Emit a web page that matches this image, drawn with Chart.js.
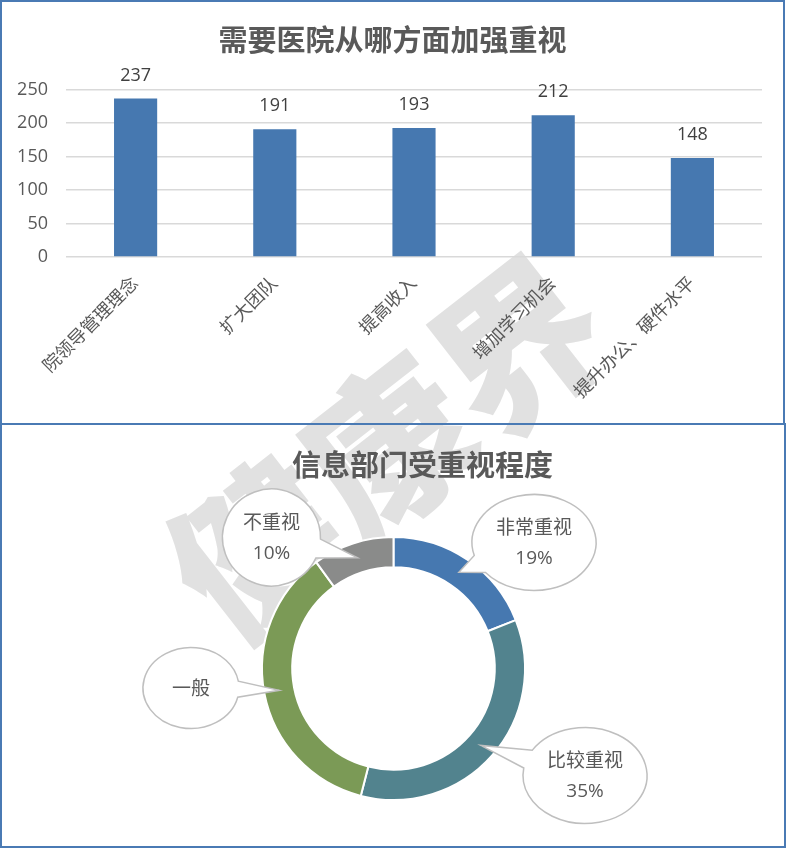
<!DOCTYPE html>
<html>
<head>
<meta charset="utf-8">
<script src="https://cdn.jsdelivr.net/npm/chart.js@4.4.0/dist/chart.umd.min.js"></script>
<style>
  html, body { margin: 0; padding: 0; background: #fff; }
  body { width: 786px; height: 848px; position: relative; overflow: hidden; }
  .panel { position: absolute; box-sizing: border-box; border: 2px solid #4a7ab4; pointer-events: none; z-index: 3; }
  .chart-box { position: absolute; left: 0; width: 786px; height: 424px; z-index: 1; }
  #watermark {
    position: absolute; left: 382px; top: 440px; z-index: 0;
    transform: translate(-50%, -50%) rotate(-38deg);
    font: 900 165px "Noto Sans CJK SC"; line-height: 1; color: #e1e1e1; white-space: nowrap;
  }
</style>
</head>
<body>
<div id="watermark">健康界</div>
<div class="chart-box" style="top:0"><canvas id="bar-chart"></canvas></div>
<div class="chart-box" style="top:424px"><canvas id="ring-chart"></canvas></div>
<div class="panel" style="left:0;top:0;width:785px;height:425px"></div>
<div class="panel" style="left:0;top:423px;width:786px;height:425px"></div>

<script>
// Top chart data
const categories = ['院领导管理理念', '扩大团队', '提高收入', '增加学习机会', '提升办公、硬件水平'];
const counts = [237, 191, 193, 212, 148];
const yTicks = [0, 50, 100, 150, 200, 250];

// Bottom chart data
const levels = ['非常重视', '比较重视', '一般', '不重视'];
const shares = [19, 35, 36, 10];
const showShare = [true, true, false, true];

// Callout bubbles: offset from ring centre and radii (layout only)
const bubbleLayout = [
    [140.5, -126, 62, 48],
    [191.5, 107, 62, 48],
    [-202.5, 19.5, 48, 40.5],
    [-122, -131, 49, 48.5]
];

const TEXT = '#595959';
const FONT = '"Open Sans", "Noto Sans CJK SC", sans-serif';
const TITLE_FONT = '"Noto Sans CJK SC", sans-serif';

Chart.defaults.font.family = FONT;
Chart.defaults.color = TEXT;

/**
 * Value labels above the bars
 */
const barValueLabels = {
    id: 'barValueLabels',
    afterDatasetsDraw(chart) {
        const ctx = chart.ctx;
        chart.getDatasetMeta(0).data.forEach((bar, i) => {
            ctx.save();
            ctx.font = '18px ' + FONT;
            ctx.fillStyle = '#404040';
            ctx.textAlign = 'center';
            ctx.textBaseline = 'middle';
            ctx.fillText(String(counts[i]), bar.x, bar.y - 23);
            ctx.restore();
        });
    }
};

/**
 * Ellipse speech bubbles pointing at each ring slice
 */
const ringCallouts = {
    id: 'ringCallouts',
    afterDraw(chart) {
        const ctx = chart.ctx;
        chart.getDatasetMeta(0).data.forEach((arc, i) => {
            const tip = arc.tooltipPosition();
            const [ox, oy, rx, ry] = bubbleLayout[i];
            const bx = arc.x + ox;
            const by = arc.y + oy;
            const t = Math.atan2((tip.y - by) / ry, (tip.x - bx) / rx);
            const d = 0.2;

            ctx.save();
            ctx.beginPath();
            ctx.ellipse(bx, by, rx, ry, 0, t + d, t - d + Math.PI * 2);
            ctx.lineTo(tip.x, tip.y);
            ctx.closePath();
            ctx.fillStyle = '#fff';
            ctx.fill();
            ctx.lineWidth = 1.5;
            ctx.strokeStyle = '#bfbfbf';
            ctx.stroke();

            ctx.font = '19px ' + FONT;
            ctx.fillStyle = TEXT;
            ctx.textAlign = 'center';
            ctx.textBaseline = 'middle';
            if (showShare[i]) {
                ctx.fillText(levels[i], bx, by - 14);
                ctx.fillText(shares[i] + '%', bx, by + 16);
            } else {
                ctx.fillText(levels[i], bx, by + 2);
            }
            ctx.restore();
        });
    }
};

new Chart(document.getElementById('bar-chart'), {
    type: 'bar',
    data: {
        labels: categories,
        datasets: [{
            data: counts,
            backgroundColor: '#4678b0',
            categoryPercentage: 1,
            barPercentage: 0.31
        }]
    },
    options: {
        responsive: true,
        maintainAspectRatio: false,
        animation: false,
        events: [],
        layout: { padding: { left: 0, right: 1, top: 0, bottom: 0 } },
        scales: {
            x: {
                grid: { display: false },
                border: { display: false },
                ticks: {
                    autoSkip: false,
                    minRotation: 45,
                    maxRotation: 45,
                    padding: 8,
                    color: TEXT,
                    font: { size: 18 }
                },
                afterFit: s => { s.height = 167; }
            },
            y: {
                min: yTicks[0],
                max: yTicks[yTicks.length - 1],
                afterBuildTicks: s => { s.ticks = yTicks.map(v => ({ value: v })); },
                grid: { color: '#d9d9d9', lineWidth: 1.5, drawTicks: false },
                border: { display: false },
                ticks: { padding: 18, color: TEXT, font: { size: 18 } },
                afterFit: s => { s.width = 66; }
            },
            // empty right-hand spacer so the title centres like the original
            spacer: {
                type: 'linear',
                position: 'right',
                grid: { display: false },
                border: { display: false },
                ticks: { display: false },
                afterFit: s => { s.width = 23; }
            }
        },
        plugins: {
            legend: { display: false },
            tooltip: { enabled: false },
            title: {
                display: true,
                text: '需要医院从哪方面加强重视',
                color: TEXT,
                font: { family: TITLE_FONT, size: 29, weight: 'bold', lineHeight: 1.2 },
                padding: { top: 23, bottom: 32 }
            }
        }
    },
    plugins: [barValueLabels]
});

// chart area is wider than the ring so the title (aligned to its right edge)
// can sit off-centre as in the original while the ring stays centred
new Chart(document.getElementById('ring-chart'), {
    type: 'doughnut',
    data: {
        labels: levels,
        datasets: [{
            data: shares,
            backgroundColor: ['#4678b0', '#52838e', '#7b9a56', '#8a8b8a'],
            borderColor: '#fff',
            borderWidth: 2
        }]
    },
    options: {
        responsive: true,
        maintainAspectRatio: false,
        animation: false,
        events: [],
        cutout: '77%',
        layout: { padding: { left: 234, right: 233, top: 0, bottom: 47 } },
        plugins: {
            legend: { display: false },
            tooltip: { enabled: false },
            title: {
                display: true,
                align: 'end',
                text: '信息部门受重视程度',
                color: TEXT,
                font: { family: TITLE_FONT, size: 29, weight: 'bold', lineHeight: 1.2 },
                padding: { top: 24, bottom: 53.2 }
            }
        }
    },
    plugins: [ringCallouts]
});
</script>
</body>
</html>
